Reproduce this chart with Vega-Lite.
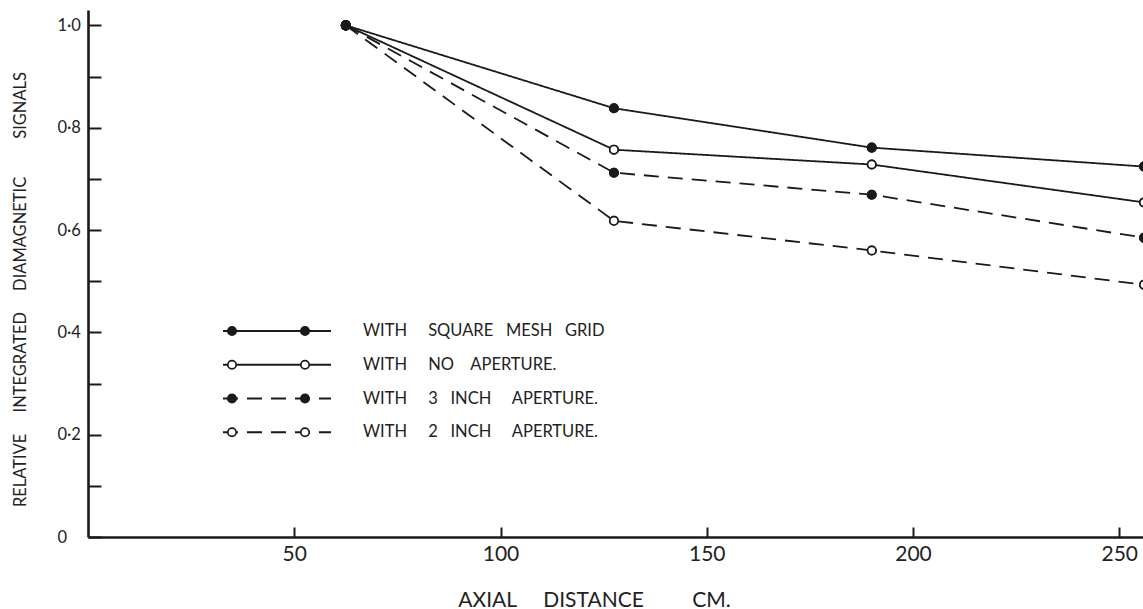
{
  "$schema": "https://vega.github.io/schema/vega-lite/v6.json",
  "width": 1056,
  "height": 527,
  "autosize": {"type": "none"},
  "padding": {"left": 88, "top": 10, "right": 0, "bottom": 72},
  "background": "white",
  "config": {"view": {"stroke": null}, "font": "Lato"},
  "data": {
    "values": [
      {"series": "no", "distance": 62.5, "signal": 1.0},
      {"series": "no", "distance": 127.5, "signal": 0.757},
      {"series": "no", "distance": 190, "signal": 0.728},
      {"series": "no", "distance": 256, "signal": 0.654},
      {"series": "a2", "distance": 62.5, "signal": 1.0},
      {"series": "a2", "distance": 127.5, "signal": 0.618},
      {"series": "a2", "distance": 190, "signal": 0.56},
      {"series": "a2", "distance": 256, "signal": 0.493},
      {"series": "sq", "distance": 62.5, "signal": 1.0},
      {"series": "sq", "distance": 127.5, "signal": 0.838},
      {"series": "sq", "distance": 190, "signal": 0.761},
      {"series": "sq", "distance": 256, "signal": 0.724},
      {"series": "a3", "distance": 62.5, "signal": 1.0},
      {"series": "a3", "distance": 127.5, "signal": 0.712},
      {"series": "a3", "distance": 190, "signal": 0.669},
      {"series": "a3", "distance": 256, "signal": 0.585}
    ]
  },
  "encoding": {
    "x": {
      "field": "distance",
      "type": "quantitative",
      "scale": {"domain": [0, 256], "nice": false, "zero": false},
      "axis": {
        "values": [50, 100, 150, 200, 250],
        "grid": false,
        "title": "AXIAL\u00a0\u00a0\u00a0\u00a0\u00a0DISTANCE\u00a0\u00a0\u00a0\u00a0\u00a0\u00a0\u00a0\u00a0\u00a0CM.",
        "titleFont": "Lato",
        "titleFontSize": 21,
        "titleFontWeight": "normal",
        "titleColor": "#222222",
        "titleX": 506,
        "titleY": 69,
        "titleAlign": "center",
        "titleBaseline": "alphabetic",
        "labelFont": "Lato",
        "labelFontSize": 21,
        "labelColor": "#222222",
        "labelBaseline": "top",
        "labelPadding": 16.5,
        "labelFlush": false,
        "labelOverlap": false,
        "tickSize": -10,
        "tickWidth": 2,
        "tickColor": "#1a1a1a",
        "domainColor": "#1a1a1a",
        "domainWidth": 2.6
      }
    },
    "y": {
      "field": "signal",
      "type": "quantitative",
      "scale": {"domain": [0, 1.03], "nice": false},
      "axis": {
        "values": [0, 0.1, 0.2, 0.3, 0.4, 0.5, 0.6, 0.7, 0.8, 0.9, 1.0],
        "labelExpr": "datum.value == 0 ? '0' : (round(datum.value * 10) % 2 == 0 ? replace(format(datum.value, '.1f'), '.', '·') : '')",
        "grid": false,
        "title": "RELATIVE\u00a0\u00a0\u00a0\u00a0\u00a0INTEGRATED\u00a0\u00a0\u00a0\u00a0\u00a0DIAMAGNETIC\u00a0\u00a0\u00a0\u00a0\u00a0\u00a0\u00a0\u00a0\u00a0SIGNALS",
        "titleFont": "Lato",
        "titleFontSize": 16.5,
        "titleFontWeight": "normal",
        "titleColor": "#222222",
        "titleAngle": 270,
        "titleX": -63,
        "titleY": 279,
        "titleAlign": "center",
        "titleBaseline": "alphabetic",
        "labelFont": "Lato",
        "labelFontSize": 16.5,
        "labelColor": "#222222",
        "labelAlign": "left",
        "labelBaseline": "middle",
        "labelPadding": 44,
        "labelFlush": false,
        "labelOverlap": false,
        "tickSize": -13,
        "tickWidth": 2,
        "tickColor": "#1a1a1a",
        "domainColor": "#1a1a1a",
        "domainWidth": 2.6
      }
    }
  },
  "resolve": {"scale": {"fill": "independent"}, "legend": {"fill": "independent"}},
  "layer": [
    {
      "mark": {"type": "line", "strokeWidth": 1.8, "color": "#1a1a1a"},
      "encoding": {
        "strokeDash": {
          "field": "series",
          "type": "nominal",
          "scale": {"domain": ["sq", "no", "a3", "a2"], "range": [[1, 0], [1, 0], [15, 9], [15, 9]]},
          "legend": {
            "orient": "none",
            "legendX": 134,
            "legendY": 312.75,
            "title": null,
            "padding": 0,
            "rowPadding": 16.75,
            "clipHeight": 16.5,
            "labelOffset": 31,
            "labelFont": "Lato",
            "labelFontSize": 16.5,
            "labelColor": "#222222",
            "labelLimit": 600,
            "symbolType": "stroke",
            "symbolSize": 11664,
            "symbolStrokeColor": "#1a1a1a",
            "symbolStrokeWidth": 1.8,
            "labelExpr": "datum.value == 'sq' ? 'WITH\u00a0\u00a0\u00a0\u00a0\u00a0SQUARE\u00a0\u00a0\u00a0MESH\u00a0\u00a0\u00a0GRID' : datum.value == 'no' ? 'WITH\u00a0\u00a0\u00a0\u00a0\u00a0NO\u00a0\u00a0\u00a0\u00a0APERTURE.' : datum.value == 'a3' ? 'WITH\u00a0\u00a0\u00a0\u00a0\u00a03\u00a0\u00a0\u00a0INCH\u00a0\u00a0\u00a0\u00a0\u00a0APERTURE.' : 'WITH\u00a0\u00a0\u00a0\u00a0\u00a02\u00a0\u00a0\u00a0INCH\u00a0\u00a0\u00a0\u00a0\u00a0APERTURE.'"
          }
        }
      }
    },
    {
      "mark": {"type": "point", "shape": "circle", "size": 70, "stroke": "#1a1a1a", "strokeWidth": 1.7, "opacity": 1},
      "encoding": {
        "fill": {
          "field": "series",
          "type": "nominal",
          "scale": {"domain": ["sq", "no", "a3", "a2"], "range": ["#1a1a1a", "#ffffff", "#1a1a1a", "#ffffff"]},
          "legend": {
            "orient": "none",
            "legendX": 135.75,
            "legendY": 312.75,
            "title": null,
            "padding": 0,
            "rowPadding": 16.75,
            "labelFontSize": 16.5,
            "labelExpr": "''",
            "symbolType": "circle",
            "symbolSize": 70,
            "symbolStrokeColor": "#1a1a1a",
            "symbolStrokeWidth": 1.7,
            "symbolOpacity": 1
          }
        }
      }
    },
    {
      "mark": {"type": "point", "shape": "circle", "size": 70, "stroke": "#1a1a1a", "strokeWidth": 1.7, "opacity": 1},
      "encoding": {
        "fill": {
          "field": "series",
          "type": "nominal",
          "scale": {"domain": ["sq", "no", "a3", "a2"], "range": ["#1a1a1a", "#ffffff", "#1a1a1a", "#ffffff"]},
          "legend": {
            "orient": "none",
            "legendX": 208.75,
            "legendY": 312.75,
            "title": null,
            "padding": 0,
            "rowPadding": 16.75,
            "labelFontSize": 16.5,
            "labelExpr": "''",
            "symbolType": "circle",
            "symbolSize": 70,
            "symbolStrokeColor": "#1a1a1a",
            "symbolStrokeWidth": 1.7,
            "symbolOpacity": 1
          }
        }
      }
    }
  ]
}
